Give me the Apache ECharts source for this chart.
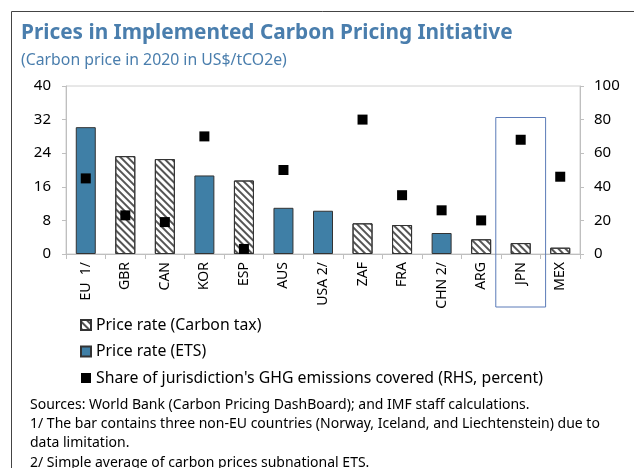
<!DOCTYPE html>
<html>
<head>
<meta charset="utf-8">
<script src="https://cdn.jsdelivr.net/npm/echarts@6/dist/echarts.min.js"></script>
<style>
  html, body { margin: 0; padding: 0; background: #fff; }
  #chart { width: 634px; height: 468px; }
</style>
</head>
<body>
<div id="chart"></div>
<script>
// Jurisdictions on the category axis
const categories = ['EU  1/', 'GBR', 'CAN', 'KOR', 'ESP', 'AUS', 'USA 2/', 'ZAF', 'FRA', 'CHN 2/', 'ARG', 'JPN', 'MEX'];
// Carbon price, US$/tCO2e (carbon tax schemes)
const carbonTax = [null, 23.3, 22.6, null, 17.5, null, null, 7.3, 6.9, null, 3.5, 2.6, 1.5];
// Carbon price, US$/tCO2e (emissions trading systems)
const etsPrice = [30.2, null, null, 18.7, null, 11.0, 10.3, null, null, 5.0, null, null, null];
// Share of jurisdiction's GHG emissions covered, percent (right axis)
const emissionShare = [45, 23, 19, 70, 3, 50, null, 80, 35, 26, 20, 68, 46];
// Axis ticks
const leftTicks = { min: 0, max: 40, interval: 8 };
const rightTicks = { min: 0, max: 100, interval: 20 };

const FONT = 'Noto Sans';
const BLUE = '#4a7ead';

const chart = echarts.init(document.getElementById('chart'), null, { renderer: 'canvas' });

const option = {
  backgroundColor: '#fff',
  animation: false,
  textStyle: { fontFamily: FONT },
  grid: { left: 66, right: 54, top: 86, bottom: 214, show: true, borderColor: '#d0d0d0', borderWidth: 1, containLabel: false },
  title: [
    { text: 'Prices in Implemented Carbon Pricing Initiative', left: 16, top: 18,
      textStyle: { fontFamily: FONT, fontSize: 20.8, fontWeight: 'bold', color: BLUE } },
    { text: '(Carbon price in 2020 in US$/tCO2e)', left: 16, top: 47,
      textStyle: { fontFamily: FONT, fontSize: 15.8, fontWeight: 'normal', color: BLUE } }
  ],
  legend: {
    orient: 'vertical', left: 75, top: 312, itemGap: 10.5, itemWidth: 10, itemHeight: 10,
    textStyle: { fontFamily: FONT, fontSize: 15.8, color: '#000' },
    data: [
      { name: 'Price rate (Carbon tax)', icon: 'rect' },
      { name: 'Price rate (ETS)', icon: 'rect' },
      { name: "Share of jurisdiction's GHG emissions covered (RHS, percent)", icon: 'rect' }
    ]
  },
  xAxis: {
    type: 'category', data: categories,
    axisLine: { lineStyle: { color: '#bfbfbf' } },
    axisTick: { show: true, interval: 0, length: 5, lineStyle: { color: '#bfbfbf' } },
    axisLabel: { rotate: 90, interval: 0, fontSize: 14, color: '#000', margin: 8, fontFamily: FONT }
  },
  yAxis: [
    { type: 'value', min: leftTicks.min, max: leftTicks.max, interval: leftTicks.interval,
      splitLine: { show: false },
      axisLine: { show: true, lineStyle: { color: '#bfbfbf' } },
      axisTick: { show: true, length: 4, lineStyle: { color: '#bfbfbf' } },
      axisLabel: { fontSize: 15, color: '#000', margin: 15, fontFamily: FONT } },
    { type: 'value', min: rightTicks.min, max: rightTicks.max, interval: rightTicks.interval,
      splitLine: { show: false },
      axisLine: { show: true, lineStyle: { color: '#bfbfbf' } },
      axisTick: { show: true, length: 4, lineStyle: { color: '#bfbfbf' } },
      axisLabel: { fontSize: 15, color: '#000', margin: 14, fontFamily: FONT } }
  ],
  series: [
    { name: 'Price rate (Carbon tax)', type: 'bar', stack: 'price', data: carbonTax, barWidth: 20,
      itemStyle: { color: '#ffffff', borderColor: '#333', borderWidth: 1,
        decal: { symbol: 'rect', symbolSize: 1, dashArrayX: [1, 0], dashArrayY: [2, 3], rotation: Math.PI / 4, color: '#555' } } },
    { name: 'Price rate (ETS)', type: 'bar', stack: 'price', data: etsPrice, barWidth: 20,
      itemStyle: { color: '#3f7fa6', borderColor: '#333', borderWidth: 1 } },
    { name: "Share of jurisdiction's GHG emissions covered (RHS, percent)", type: 'scatter', yAxisIndex: 1,
      data: emissionShare, symbol: 'rect', symbolSize: 10, itemStyle: { color: '#000', opacity: 1 }, z: 5 }
  ]
};
chart.setOption(option);

// Frame around JPN column, anchored to the axes
const bandWidth = chart.convertToPixel({ xAxisIndex: 0 }, 'MEX') - chart.convertToPixel({ xAxisIndex: 0 }, 'JPN');
const jpnX = chart.convertToPixel({ xAxisIndex: 0 }, 'JPN');
const boxTop = chart.convertToPixel({ yAxisIndex: 0 }, 32.5);
const axisY = chart.convertToPixel({ yAxisIndex: 0 }, 0);
const halfW = bandWidth * 0.63;

chart.setOption({
  graphic: [
    { type: 'rect', shape: { x: jpnX - halfW, y: boxTop, width: halfW * 2, height: axisY + 53 - boxTop },
      style: { fill: 'none', stroke: '#5b7bb8', lineWidth: 1 }, z: 10 },
    { type: 'polyline', shape: { points: [[11.5, 468], [11.5, 11.5], [634, 11.5]] },
      style: { fill: 'none', stroke: '#444', lineWidth: 1 } },
    { type: 'text', left: 30, top: 395,
      style: { text: 'Sources: World Bank (Carbon Pricing DashBoard); and IMF staff calculations.\n1/ The bar contains three non-EU countries (Norway, Iceland, and Liechtenstein) due to\ndata limitation.\n2/ Simple average of carbon prices subnational ETS.',
        font: '14px "' + FONT + '"', fill: '#000', lineHeight: 19.3 } }
  ]
});
</script>
</body>
</html>
